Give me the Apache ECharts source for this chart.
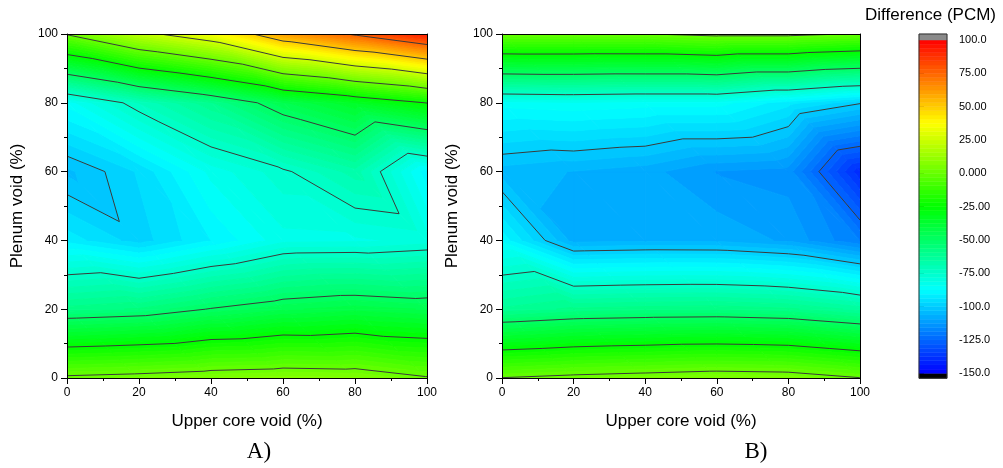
<!DOCTYPE html>
<html><head><meta charset="utf-8">
<script src="https://cdn.jsdelivr.net/npm/echarts@6/dist/echarts.min.js"></script>
<style>html,body{margin:0;padding:0;background:#fff}#c{width:1003px;height:468px}</style>
</head><body><div id="c"></div>
<script>
// ---- data (grid nodes of the contour maps) ----
const upperCoreVoid = [0, 20, 40, 60, 80, 100];
const plenumVoid = [0, 20, 40, 60, 80, 100];
// Panel A: one row per plenum void value, columns = upper core void
const A_p0   = [2, 3.7, 6.1, 7.5, 6.6, 0.9];
const A_p20  = [-58, -55.8, -49.5, -44.5, -41.9, -44.1];
const A_p40  = [-92, -98.5, -90.6, -82.4, -82, -80];
const A_p60  = [-104, -96.4, -83.4, -76.1, -67.1, -89.6];
const A_p80  = [-86.2, -71.8, -60, -44.5, -34.8, -24.7];
const A_p100 = [1, 21, 34.8, 60.8, 76.8, 93];
// Panel B
const B_p0   = [0.3, 2.8, 4.5, 6.3, 5.4, 0.3];
const B_p20  = [-61.8, -58.6, -57.5, -57, -58.6, -63.7];
const B_p40  = [-88.5, -107.6, -106.8, -107, -110, -118.8];
const B_p60  = [-104.7, -106.4, -108.2, -112.7, -114, -139.8];
const B_p80  = [-86, -85, -86, -86, -92.6, -99.5];
const B_p100 = [-0.3, -0.4, -0.2, 2.5, 2.5, -0.8];
const colorbarTicks = [100, 75, 50, 25, 0, -25, -50, -75, -100, -125, -150];
const contourLevels = [-150, -125, -100, -75, -50, -25, 0, 25, 50, 75, 100];
const fillStep = 3.125;
const scaleMin = -150, scaleMax = 100;

const panelA = [A_p0, A_p20, A_p40, A_p60, A_p80, A_p100];
const panelB = [B_p0, B_p20, B_p40, B_p60, B_p80, B_p100];

const bands = [];
for (let lo = scaleMin; lo < scaleMax - 1e-9; lo += fillStep) bands.push([lo, lo + fillStep]);
const allBands = [[-Infinity, scaleMin]].concat(bands, [[scaleMax, Infinity]]);

function hsvColor(h) {
  const x = 1 - Math.abs((h / 60) % 2 - 1);
  let r, g, b;
  if (h < 60) { r = 1; g = x; b = 0; }
  else if (h < 120) { r = x; g = 1; b = 0; }
  else if (h < 180) { r = 0; g = 1; b = x; }
  else if (h < 240) { r = 0; g = x; b = 1; }
  else { r = 0; g = 0; b = 1; }
  return 'rgb(' + Math.round(r * 255) + ',' + Math.round(g * 255) + ',' + Math.round(b * 255) + ')';
}
function bandColor(lo, hi) {
  if (lo >= scaleMax) return '#8a8a8a';
  if (hi <= scaleMin) return '#000000';
  const mid = (lo + hi) / 2;
  let t = (scaleMax - mid) / (scaleMax - scaleMin);
  t = Math.max(0, Math.min(1, t));
  return hsvColor(240 * t);
}
function clipPoly(pts, level, keepAbove) {
  const out = [];
  if (!isFinite(level)) return pts.slice();
  for (let k = 0; k < pts.length; k++) {
    const p = pts[k], q = pts[(k + 1) % pts.length];
    const pin = keepAbove ? p.v >= level : p.v <= level;
    const qin = keepAbove ? q.v >= level : q.v <= level;
    if (pin) out.push(p);
    if (pin !== qin) {
      const t = (level - p.v) / (q.v - p.v);
      out.push({ x: p.x + t * (q.x - p.x), y: p.y + t * (q.y - p.y), v: level });
    }
  }
  return out;
}
function makeRender(grid) {
  return function (params, api) {
    const i = api.value(0), j = api.value(1);
    const P = (ii, jj) => {
      const c = api.coord([upperCoreVoid[ii], plenumVoid[jj]]);
      return { x: c[0], y: c[1], v: grid[jj][ii] };
    };
    const a = P(i, j), b = P(i + 1, j), c = P(i, j + 1), d = P(i + 1, j + 1);
    const tris = [[a, b, c], [b, d, c]];
    const children = [];
    tris.forEach(tri => {
      const vs = tri.map(p => p.v);
      const vmin = Math.min.apply(null, vs), vmax = Math.max.apply(null, vs);
      allBands.forEach(([lo, hi]) => {
        if (hi <= vmin || lo >= vmax) return;
        let poly = clipPoly(tri, lo, true);
        if (poly.length < 3) return;
        poly = clipPoly(poly, hi, false);
        if (poly.length < 3) return;
        const col = bandColor(lo, hi);
        children.push({ type: 'polygon', z2: 1, shape: { points: poly.map(p => [p.x, p.y]) },
          style: { fill: col, stroke: col, lineWidth: 1, lineJoin: 'round' } });
      });
    });
    tris.forEach(tri => {
      contourLevels.forEach(L => {
        const pts = [];
        for (let k = 0; k < 3; k++) {
          const p = tri[k], q = tri[(k + 1) % 3];
          if ((p.v - L) * (q.v - L) < 0) {
            const t = (L - p.v) / (q.v - p.v);
            pts.push([p.x + t * (q.x - p.x), p.y + t * (q.y - p.y)]);
          }
        }
        if (pts.length === 2) {
          children.push({ type: 'polyline', z2: 50, shape: { points: pts },
            style: { stroke: '#3a3a3a', lineWidth: 1, fill: null } });
        }
      });
    });
    return { type: 'group', children: children };
  };
}
const cells = [];
for (let j = 0; j < plenumVoid.length - 1; j++)
  for (let i = 0; i < upperCoreVoid.length - 1; i++) cells.push([i, j]);

const font = '"Liberation Sans", Arial, sans-serif';
function bottomAxis(gi) {
  return {
    gridIndex: gi, type: 'value', min: 0, max: 100, interval: 20, position: 'bottom', z: 10,
    axisLine: { show: true, onZero: false, lineStyle: { color: '#000', width: 1 } },
    axisTick: { show: true, length: 6, lineStyle: { color: '#000' } },
    minorTick: { show: true, splitNumber: 2, length: 3, lineStyle: { color: '#000' } },
    axisLabel: { fontSize: 12, color: '#000', margin: 9, fontFamily: font },
    splitLine: { show: false },
    name: 'Upper core void (%)', nameLocation: 'middle', nameGap: 35,
    nameTextStyle: { fontSize: 17, color: '#000', fontFamily: font }
  };
}
function leftAxis(gi) {
  return {
    gridIndex: gi, type: 'value', min: 0, max: 100, interval: 20, position: 'left', z: 10,
    axisLine: { show: true, onZero: false, lineStyle: { color: '#000', width: 1 } },
    axisTick: { show: true, length: 6, lineStyle: { color: '#000' } },
    minorTick: { show: true, splitNumber: 2, length: 3, lineStyle: { color: '#000' } },
    axisLabel: { fontSize: 12, color: '#000', margin: 9, fontFamily: font },
    splitLine: { show: false },
    name: 'Plenum void (%)', nameLocation: 'middle', nameGap: 41,
    nameTextStyle: { fontSize: 17, color: '#000', fontFamily: font }
  };
}
function frameAxisX(gi) {
  return { gridIndex: gi, type: 'value', min: 0, max: 100, position: 'top', z: 10,
    axisLine: { show: true, onZero: false, lineStyle: { color: '#000' } },
    axisTick: { show: false }, axisLabel: { show: false }, splitLine: { show: false } };
}
function frameAxisY(gi) {
  return { gridIndex: gi, type: 'value', min: 0, max: 100, position: 'right', z: 10,
    axisLine: { show: true, onZero: false, lineStyle: { color: '#000' } },
    axisTick: { show: false }, axisLabel: { show: false }, splitLine: { show: false } };
}

const cbData = allBands.map(b => [b[0], b[1]]);
function renderColorbar(params, api) {
  const lo = api.value(0), hi = api.value(1);
  const col = bandColor(lo, hi);
  let y1, y2;
  const xl = api.coord([0, 0])[0], xr = api.coord([1, 0])[0];
  if (!isFinite(hi)) { y2 = api.coord([0, lo])[1]; y1 = y2 - 6; }
  else if (!isFinite(lo)) { y1 = api.coord([0, hi])[1]; y2 = y1 + 5; }
  else { y1 = api.coord([0, hi])[1]; y2 = api.coord([0, lo])[1]; }
  const children = [{ type: 'rect', shape: { x: xl, y: y1, width: xr - xl, height: y2 - y1 },
    style: { fill: col, stroke: col, lineWidth: 0.5 } }];
  if (params.dataIndex === cbData.length - 1) {
    const top = api.coord([0, scaleMax])[1] - 6, bot = api.coord([0, scaleMin])[1] + 5;
    children.push({ type: 'rect', z2: 10, shape: { x: xl, y: top, width: xr - xl, height: bot - top },
      style: { fill: null, stroke: '#333', lineWidth: 1 } });
  }
  return { type: 'group', children: children };
}

const option = {
  animation: false,
  backgroundColor: '#fff',
  grid: [
    { left: 67, top: 34, width: 360, height: 344 },
    { left: 502, top: 34, width: 358, height: 344 },
    { left: 919, top: 40, width: 28, height: 333.3 }
  ],
  xAxis: [bottomAxis(0), bottomAxis(1), frameAxisX(0), frameAxisX(1),
    { gridIndex: 2, type: 'value', min: 0, max: 1, show: false }],
  yAxis: [leftAxis(0), leftAxis(1), frameAxisY(0), frameAxisY(1),
    { gridIndex: 2, type: 'value', min: scaleMin, max: scaleMax, interval: 25, position: 'right',
      axisLine: { show: false }, splitLine: { show: false },
      axisTick: { show: true, length: 5, lineStyle: { color: '#222' } },
      axisLabel: { fontSize: 11, color: '#000', margin: 12, fontFamily: font,
        formatter: v => colorbarTicks.indexOf(v) >= 0 ? v.toPrecision(4) : '' } }],
  series: [
    { type: 'custom', xAxisIndex: 0, yAxisIndex: 0, data: cells, renderItem: makeRender(panelA), clip: true },
    { type: 'custom', xAxisIndex: 1, yAxisIndex: 1, data: cells, renderItem: makeRender(panelB), clip: true },
    { type: 'custom', xAxisIndex: 4, yAxisIndex: 4, data: cbData, renderItem: renderColorbar, clip: false }
  ],
  graphic: [
    { type: 'text', x: 259, y: 452, style: { text: 'A)', font: '23px "Liberation Serif", "Times New Roman", serif', fill: '#000', textAlign: 'center', textVerticalAlign: 'middle' } },
    { type: 'text', x: 756, y: 452, style: { text: 'B)', font: '23px "Liberation Serif", "Times New Roman", serif', fill: '#000', textAlign: 'center', textVerticalAlign: 'middle' } },
    { type: 'text', x: 865, y: 15, style: { text: 'Difference (PCM)', font: '17px "Liberation Sans", Arial, sans-serif', fill: '#000', textAlign: 'left', textVerticalAlign: 'middle' } }
  ]
};
const chart = echarts.init(document.getElementById('c'), null, { renderer: 'canvas' });
chart.setOption(option);
</script>
</body></html>
